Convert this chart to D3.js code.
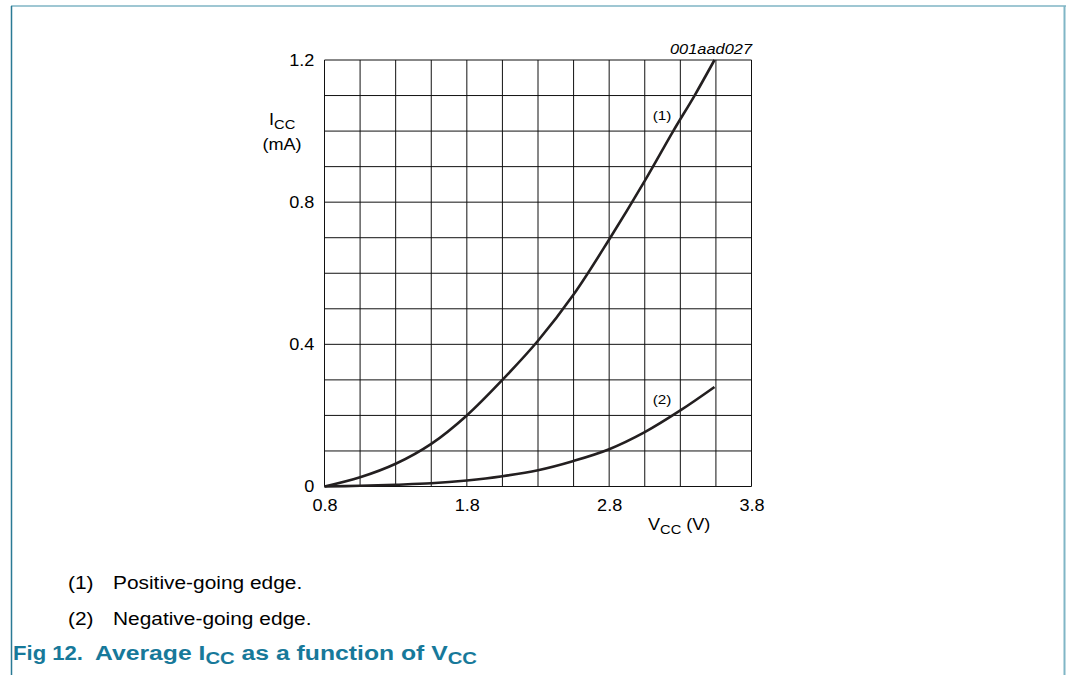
<!DOCTYPE html>
<html>
<head>
<meta charset="utf-8">
<script src="https://cdn.jsdelivr.net/npm/d3@7"></script>
<style>
body { margin: 0; background: #fff; }
text { font-family: "Liberation Sans", Arial, sans-serif; }
</style>
</head>
<body>
<div id="chart"></div>
<script>
// values
var vccPos = [0.8, 1.05, 1.3, 1.55, 1.8, 2.05, 2.3, 2.55, 2.8, 3.05, 3.25, 3.40, 3.54];
var iccPos = [0, 0.026, 0.064, 0.12, 0.2, 0.3, 0.41, 0.54, 0.695, 0.86, 1.0, 1.1, 1.2];
var vccNeg = [0.8, 1.05, 1.3, 1.55, 1.8, 2.05, 2.3, 2.55, 2.8, 3.05, 3.3, 3.54];
var iccNeg = [0, 0.002, 0.005, 0.009, 0.017, 0.029, 0.046, 0.072, 0.105, 0.153, 0.214, 0.28];
var xTicks = [0.8, 1.8, 2.8, 3.8];
var yTicks = [0, 0.4, 0.8, 1.2];
var xGrid = d3.range(0.8, 3.81, 0.25);
var yGrid = d3.range(0, 1.21, 0.1);
var notes = ["Positive-going edge.", "Negative-going edge."];

var W = 1066, H = 675, SX = 1.13;	// the pdf render is a bit wide

var svg = d3.select("#chart").append("svg")
	.attr("width", W).attr("height", H);

// frame
svg.append("line").attr("x1", 11).attr("x2", W).attr("y1", 6).attr("y2", 6)
	.attr("stroke", "#7fb4c4").attr("stroke-width", 1.5);
svg.append("line").attr("x1", 11.5).attr("x2", 11.5).attr("y1", 6).attr("y2", H)
	.attr("stroke", "#2a7a95").attr("stroke-width", 1.5);
svg.append("line").attr("x1", 1064.5).attr("x2", 1064.5).attr("y1", 6).attr("y2", H)
	.attr("stroke", "#80b6c6").attr("stroke-width", 2);

var x = d3.scaleLinear().domain([0.8, 3.8]).range([324.5, 751.5]);
var y = d3.scaleLinear().domain([0, 1.2]).range([486.5, 60]);

// text helper, stretched horizontally like the source
function label(px, py, size, anchor) {
	return svg.append("g").attr("transform", "translate(" + px + "," + py + ")")
		.append("text")
		.attr("transform", "scale(" + SX + ",1)")
		.attr("text-anchor", anchor || "start")
		.attr("font-size", size)
		.attr("fill", "#000");
}
// squeeze/stretch a start-anchored text to a given width
function fitWidth(t, w) {
	var n = t.node().getComputedTextLength();
	t.attr("transform", "scale(" + (w / n) + ",1)");
}

// grid
var grid = svg.append("g");
grid.selectAll(".vg").data(xGrid).enter().append("line")
	.attr("x1", function(d){ return x(d); }).attr("x2", function(d){ return x(d); })
	.attr("y1", y(0)).attr("y2", y(1.2))
	.attr("stroke", "#111").attr("stroke-width", 1);
grid.selectAll(".hg").data(yGrid).enter().append("line")
	.attr("x1", x(0.8)).attr("x2", x(3.8))
	.attr("y1", function(d){ return y(d); }).attr("y2", function(d){ return y(d); })
	.attr("stroke", "#111").attr("stroke-width", 1);

// axes (labels only)
var yAxis = svg.append("g").attr("transform", "translate(" + x(0.8) + ",0)")
	.call(d3.axisLeft(y).tickValues(yTicks).tickSize(0).tickPadding(10.2)
		.tickFormat(function(d){ return d === 0 ? "0" : d3.format(".1f")(d); }));
var xAxis = svg.append("g").attr("transform", "translate(0," + y(0) + ")")
	.call(d3.axisBottom(x).tickValues(xTicks).tickSize(0).tickPadding(13.5)
		.tickFormat(d3.format(".1f")));
[yAxis, xAxis].forEach(function(a){
	a.select(".domain").remove();
	a.selectAll("text")
		.attr("font-size", 16)
		.attr("font-family", "'Liberation Sans', Arial, sans-serif")
		.attr("fill", "#000")
		.attr("transform", "scale(" + SX + ",1)");
});
yAxis.selectAll("text").attr("x", -10.2 / SX);

// curves
var line = d3.line().curve(d3.curveCatmullRom.alpha(0.5))
	.x(function(d){ return x(d[0]); })
	.y(function(d){ return y(d[1]); });
var series = [d3.zip(vccPos, iccPos), d3.zip(vccNeg, iccNeg)];
svg.selectAll(".curve").data(series).enter().append("path")
	.attr("class", "curve")
	.attr("d", line)
	.attr("fill", "none")
	.attr("stroke", "#231f20")
	.attr("stroke-width", 2.6);

label(662, 120, 13.5, "middle").text("(1)");
label(662, 404, 13.5, "middle").text("(2)");
label(752, 54, 14.5, "end").attr("font-style", "italic").text("001aad027");

// axis titles
var yl = label(269, 125, 16, "start");
yl.append("tspan").text("I");
yl.append("tspan").attr("font-size", 13).attr("dy", 4).text("CC");
label(282, 150, 16, "middle").text("(mA)");
var xl = label(648, 530, 16, "start");
xl.append("tspan").text("V");
xl.append("tspan").attr("font-size", 13).attr("dy", 4).text("CC");
xl.append("tspan").attr("dy", -4).text(" (V)");

// notes
notes.forEach(function(n, i){
	label(68, 589 + i * 36, 18.5, "start").text("(" + (i + 1) + ")");
	label(113, 589 + i * 36, 18.5, "start").text(n);
});

// figure title
var t1 = label(13, 660, 19.5, "start").attr("font-weight", "bold").attr("fill", "#17799a").text("Fig 12.");
fitWidth(t1, 70);
var tt = label(95, 660, 19.5, "start").attr("font-weight", "bold").attr("fill", "#17799a");
tt.append("tspan").text("Average I");
tt.append("tspan").attr("font-size", 16).attr("dy", 4).text("CC");
tt.append("tspan").attr("dy", -4).text(" as a function of V");
tt.append("tspan").attr("font-size", 16).attr("dy", 4).text("CC");
fitWidth(tt, 382);
</script>
</body>
</html>
